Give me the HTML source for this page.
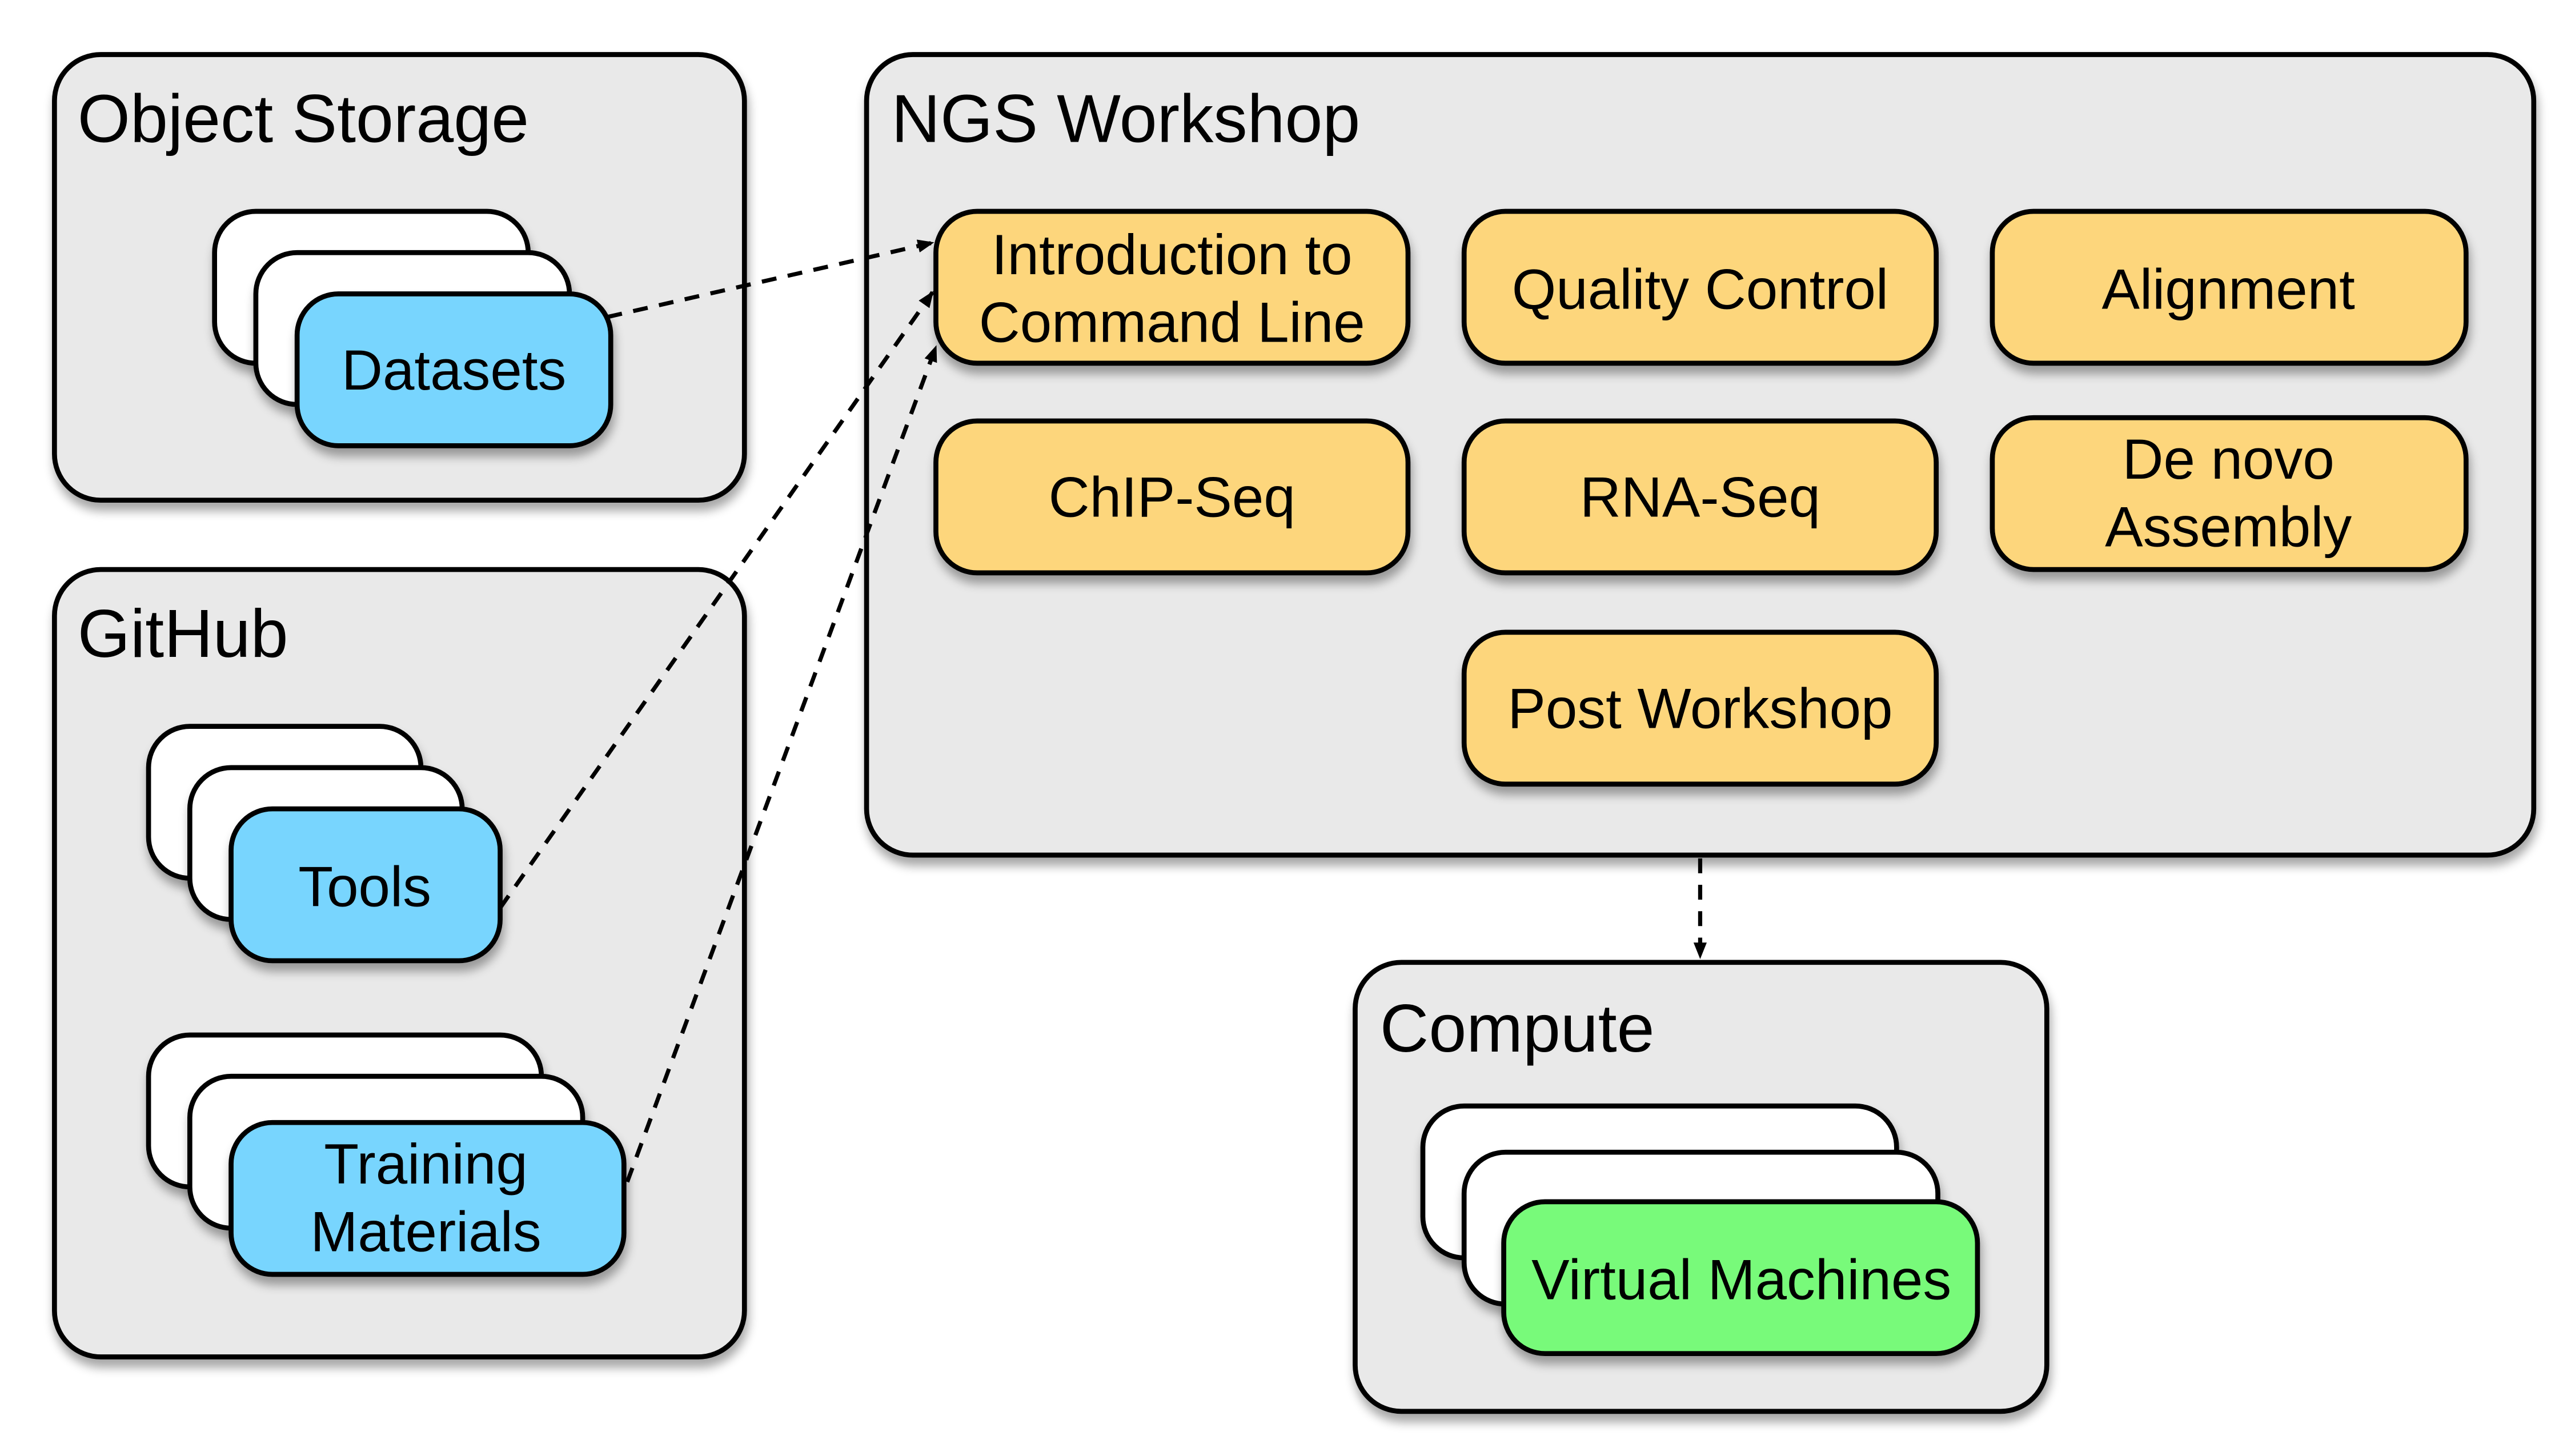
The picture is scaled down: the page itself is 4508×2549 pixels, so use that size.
<!DOCTYPE html>
<html><head><meta charset="utf-8"><style>
html,body{margin:0;padding:0;background:#fff;}
svg{display:block;}
text{font-family:"Liberation Sans",Arial,sans-serif;fill:#000;}
</style></head><body>
<svg width="4508" height="2549" viewBox="0 0 1560 882" xmlns="http://www.w3.org/2000/svg">
<defs>
<filter id="sh" x="-10%" y="-10%" width="125%" height="130%">
<feGaussianBlur in="SourceAlpha" stdDeviation="3"/>
<feOffset dx="1" dy="5"/>
<feComponentTransfer><feFuncA type="linear" slope="0.35"/></feComponentTransfer>
<feMerge><feMergeNode/><feMergeNode in="SourceGraphic"/></feMerge>
</filter>
<marker id="ah" markerWidth="10" markerHeight="8" refX="9" refY="4" orient="auto" markerUnits="userSpaceOnUse">
<path d="M0,0 L10,4 L0,8 Z" fill="#000"/>
</marker>
</defs>
<g stroke="#000" stroke-width="3">
<rect x="33" y="33" width="418" height="270" rx="28" fill="#e9e9e9" filter="url(#sh)"/>
<rect x="33" y="345" width="418" height="477" rx="28" fill="#e9e9e9" filter="url(#sh)"/>
<rect x="525" y="33" width="1010" height="485" rx="28" fill="#e9e9e9" filter="url(#sh)"/>
<rect x="821" y="583" width="419" height="272" rx="28" fill="#e9e9e9" filter="url(#sh)"/>
<rect x="130" y="128" width="190" height="92" rx="25" fill="#fff" filter="url(#sh)"/>
<rect x="155" y="153" width="190" height="92" rx="25" fill="#fff" filter="url(#sh)"/>
<rect x="180" y="178" width="190" height="92" rx="25" fill="#78d5fe" filter="url(#sh)"/>
<rect x="90" y="440" width="165" height="92" rx="25" fill="#fff" filter="url(#sh)"/>
<rect x="115" y="465" width="165" height="92" rx="25" fill="#fff" filter="url(#sh)"/>
<rect x="140" y="490" width="163" height="92" rx="25" fill="#78d5fe" filter="url(#sh)"/>
<rect x="90" y="627" width="238" height="92" rx="25" fill="#fff" filter="url(#sh)"/>
<rect x="115" y="652" width="238" height="92" rx="25" fill="#fff" filter="url(#sh)"/>
<rect x="140" y="680" width="238" height="92" rx="25" fill="#78d5fe" filter="url(#sh)"/>
<rect x="862" y="670" width="287" height="92" rx="25" fill="#fff" filter="url(#sh)"/>
<rect x="887" y="698" width="287" height="92" rx="25" fill="#fff" filter="url(#sh)"/>
<rect x="911" y="728" width="287" height="92" rx="25" fill="#78fa7a" filter="url(#sh)"/>
<g fill="#fdd67c" filter="url(#sh)">
<rect x="567" y="128" width="286" height="92" rx="25"/>
<rect x="887" y="128" width="286" height="92" rx="25"/>
<rect x="1207" y="128" width="287" height="92" rx="25"/>
<rect x="567" y="255" width="286" height="92" rx="25"/>
<rect x="887" y="255" width="286" height="92" rx="25"/>
<rect x="1207" y="253" width="287" height="92" rx="25"/>
<rect x="887" y="383" width="286" height="92" rx="25"/>
</g>
</g>
<g stroke="#000" stroke-width="2.5" stroke-dasharray="9,7" fill="none">
<line x1="368" y1="192" x2="565" y2="147" marker-end="url(#ah)"/>
<line x1="303" y1="550" x2="565" y2="177" marker-end="url(#ah)"/>
<line x1="380" y1="716" x2="567" y2="210" marker-end="url(#ah)"/>
<line x1="1030" y1="520" x2="1030" y2="580" marker-end="url(#ah)"/>
</g>
<g font-size="41">
<text x="47" y="86">Object Storage</text>
<text x="47" y="398">GitHub</text>
<text x="540" y="86">NGS Workshop</text>
<text x="836" y="637">Compute</text>
</g>
<g font-size="34.5" text-anchor="middle">
<text x="275" y="236">Datasets</text>
<text x="221" y="549">Tools</text>
<text x="258" y="717">Training</text>
<text x="258" y="758">Materials</text>
<text x="1055" y="787">Virtual Machines</text>
<text x="710" y="166">Introduction to</text>
<text x="710" y="207">Command Line</text>
<text x="1030" y="187">Quality Control</text>
<text x="1350" y="187">Alignment</text>
<text x="710" y="313">ChIP-Seq</text>
<text x="1030" y="313">RNA-Seq</text>
<text x="1350" y="290">De novo</text>
<text x="1350" y="331">Assembly</text>
<text x="1030" y="441">Post Workshop</text>
</g>
</svg>
</body></html>
